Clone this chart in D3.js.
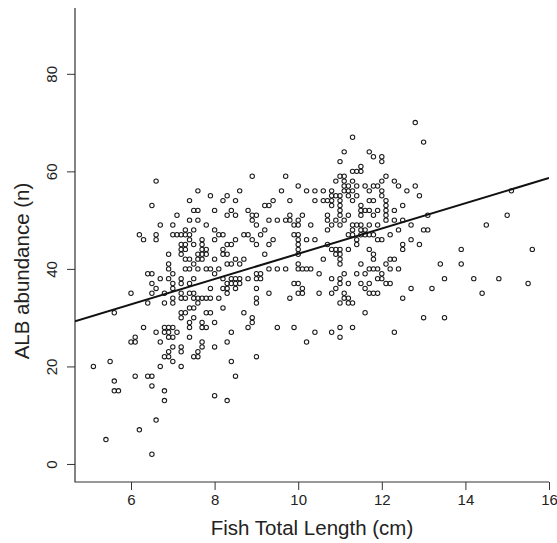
<!DOCTYPE html>
<html>
<head>
<meta charset="utf-8">
<script src="https://cdn.jsdelivr.net/npm/d3@7"></script>
<style>
    body { margin: 0; background: #fff; }
    text { font-family: "Liberation Sans", Arial, sans-serif; fill: #222; }
    .axis path { display: none; }
    .axis line { stroke: #333; }
</style>
</head>
<body>
<div id="chart"></div>
<script>
// fish total length (cm) and ALB abundance, one row of points per abundance value
const rows = [
    [70, [12.8]],
    [67, [11.3]],
    [66, [13.0]],
    [64, [11.1, 11.7]],
    [63, [11.8, 12.0]],
    [62, [11.0, 12.0]],
    [61, [11.5]],
    [60, [11.3, 11.4, 11.5]],
    [59, [8.9, 9.7, 11.0, 11.1, 12.1]],
    [58, [6.6, 10.9, 11.1, 11.3, 12.0, 12.3]],
    [57, [10.0, 11.1, 11.2, 11.4, 11.6, 11.8, 11.9, 12.4, 12.8]],
    [56, [7.6, 8.6, 9.6, 10.2, 10.4, 10.6, 10.8, 11.1, 11.2, 11.3, 11.7, 12.0, 12.6, 15.1]],
    [55, [7.9, 8.3, 10.8, 10.9, 11.0, 11.2, 11.4, 12.0, 12.9]],
    [54, [7.4, 8.2, 8.5, 9.4, 9.8, 10.4, 10.6, 10.7, 10.8, 11.0, 11.3, 11.7, 11.8, 12.1]],
    [53, [6.5, 9.2, 9.3, 10.8, 11.0, 11.5, 12.1, 12.5]],
    [52, [7.5, 7.6, 8.0, 8.4, 8.8, 11.0, 11.5, 11.6, 11.7, 11.9, 12.1, 12.3]],
    [51, [7.1, 8.3, 8.5, 8.9, 9.0, 9.8, 10.1, 10.7, 11.0, 11.2, 11.5, 11.8, 12.1, 13.1, 15.0]],
    [50, [7.4, 7.6, 8.9, 9.3, 9.5, 9.7, 9.8, 10.0, 10.7, 10.9, 11.1, 12.1, 12.3, 12.5]],
    [49, [6.7, 7.0, 7.8, 9.0, 9.9, 10.0, 10.3, 10.8, 11.0, 11.3, 11.4, 11.5, 11.7, 11.9, 12.7, 14.5]],
    [48, [7.3, 7.5, 8.0, 9.2, 10.7, 11.3, 11.5, 11.6, 12.4, 13.0, 13.1]],
    [47, [6.2, 6.6, 7.0, 7.1, 7.2, 7.3, 7.4, 8.1, 8.2, 8.7, 8.8, 9.1, 9.9, 10.0, 11.2, 11.3, 11.5, 11.6, 11.7, 11.8, 12.2]],
    [46, [6.3, 6.6, 7.4, 7.7, 8.0, 8.5, 8.9, 9.4, 10.0, 10.2, 10.4, 11.4, 11.9, 12.0, 12.7]],
    [45, [7.2, 7.3, 7.5, 7.7, 8.3, 8.4, 9.0, 9.3, 10.0, 10.7, 11.4, 12.5, 12.9]],
    [44, [7.2, 7.3, 7.7, 7.8, 8.2, 10.0, 10.8, 10.9, 11.0, 11.2, 11.7, 12.5, 13.9, 15.6]],
    [43, [6.9, 7.2, 7.6, 7.7, 7.8, 8.2, 8.3, 9.2, 10.0, 10.9, 11.0, 11.8]],
    [42, [7.3, 7.4, 7.6, 7.7, 8.0, 8.5, 8.7, 10.6, 11.0, 11.8, 12.2, 12.3]],
    [41, [6.9, 7.5, 8.3, 8.4, 8.6, 10.0, 11.0, 11.5, 12.1, 13.4, 13.9]],
    [40, [6.9, 7.3, 7.4, 7.6, 7.8, 7.9, 8.1, 9.3, 9.5, 9.7, 10.0, 10.1, 10.2, 10.3, 11.7, 11.8, 11.9, 12.2, 12.4]],
    [39, [6.4, 6.5, 7.0, 8.0, 9.0, 9.1, 10.5, 11.1, 11.4, 11.6, 12.0]],
    [38, [6.7, 6.9, 7.2, 7.5, 8.2, 8.4, 8.5, 8.6, 8.8, 9.0, 9.1, 10.8, 11.0, 11.9, 12.0, 13.5, 14.2, 14.8]],
    [37, [6.5, 7.0, 7.2, 7.4, 8.3, 8.4, 8.5, 8.6, 9.9, 10.0, 11.0, 11.2, 11.5, 11.7, 12.1, 12.2, 15.5]],
    [36, [6.6, 7.0, 7.9, 8.2, 8.3, 8.5, 9.0, 10.1, 10.9, 11.6, 12.7, 13.2]],
    [35, [6.0, 6.5, 6.8, 7.2, 7.4, 7.5, 8.3, 9.3, 10.0, 10.1, 10.5, 10.8, 11.1, 11.7, 11.8, 11.9, 14.4]],
    [34, [7.0, 7.2, 7.3, 7.5, 7.6, 7.7, 7.8, 7.9, 8.1, 9.0, 9.8, 11.1, 11.2, 12.5]],
    [33, [6.4, 6.8, 7.0, 7.6, 9.0, 11.0, 11.2, 11.3]],
    [32, [7.4, 7.5, 8.2]],
    [31, [5.6, 7.2, 7.3, 7.8, 7.9, 8.7, 11.6]],
    [30, [7.2, 7.5, 8.9, 13.0, 13.5]],
    [29, [7.4, 7.7, 8.0, 8.9]],
    [28, [6.3, 6.8, 6.9, 7.0, 7.4, 7.7, 7.8, 8.8, 9.5, 9.9, 11.0, 11.3]],
    [27, [6.6, 6.8, 6.9, 7.1, 8.4, 10.4, 10.8, 12.3]],
    [26, [6.1, 6.9, 7.0, 7.4, 11.0]],
    [25, [6.0, 6.1, 6.7, 7.7, 8.3, 10.2]],
    [24, [7.0, 7.2, 7.7, 8.0]],
    [23, [6.9, 7.2, 7.6]],
    [22, [6.8, 6.9, 7.5, 7.6, 9.0]],
    [21, [5.5, 7.0, 8.4]],
    [20, [5.1, 6.7, 7.2]],
    [18, [6.1, 6.4, 6.5, 8.5]],
    [17, [5.6]],
    [16, [6.5]],
    [15, [5.6, 5.7, 6.8]],
    [14, [8.0]],
    [13, [6.8, 8.3]],
    [9, [6.6]],
    [7, [6.2]],
    [5, [5.4]],
    [2, [6.5]]
]
// fitted regression line: abundance = intercept + slope * length
const fitIntercept = 17.2
const fitSlope = 2.59
const xTicks = [6, 8, 10, 12, 14, 16]
const yTicks = [0, 20, 40, 60, 80]
const xTitle = 'Fish Total Length (cm)'
const yTitle = 'ALB abundance (n)'

const points = []
rows.forEach(([n, lengths]) => lengths.forEach(len => points.push({length: len, n: n})))

const width = 557, height = 543
const margin = {top: 8, right: 8, bottom: 61, left: 76}

const svg = d3.select('#chart').append('svg')
    .attr('width', width)
    .attr('height', height)

const x_scale = d3.scaleLinear()
    .domain([4.66, 16.0])
    .range([margin.left - 1, width - margin.right])
const y_scale = d3.scaleLinear()
    .domain([-3.7, 93.5])
    .range([height - margin.bottom, margin.top])

const plotLeft = x_scale.range()[0], plotRight = x_scale.range()[1]
const plotTop = y_scale.range()[1], plotBottom = y_scale.range()[0]

svg.append('defs').append('clipPath')
    .attr('id', 'clip')
    .append('rect')
    .attr('x', plotLeft)
    .attr('y', plotTop)
    .attr('width', plotRight - plotLeft)
    .attr('height', plotBottom - plotTop)

// axes
const x_axis = d3.axisBottom(x_scale).tickValues(xTicks).tickSize(8).tickSizeOuter(0).tickPadding(4)
const y_axis = d3.axisLeft(y_scale).tickValues(yTicks).tickSize(8).tickSizeOuter(0).tickPadding(4)

const gx = svg.append('g')
    .attr('class', 'axis axis--x')
    .attr('transform', `translate(0,${plotBottom})`)
    .call(x_axis)
gx.selectAll('text').style('font-size', '15px').attr('fill', '#222')

const gy = svg.append('g')
    .attr('class', 'axis axis--y')
    .attr('transform', `translate(${plotLeft},0)`)
    .call(y_axis)
gy.selectAll('text')
    .style('font-size', '15px')
    .attr('fill', '#222')
    .attr('text-anchor', 'middle')
    .attr('transform', 'rotate(-90)')
    .attr('x', 0)
    .attr('y', -23)
    .attr('dy', '0.35em')

// L-shaped frame
svg.append('path')
    .attr('d', `M${plotLeft},${plotTop}V${plotBottom}H${plotRight}`)
    .attr('fill', 'none')
    .attr('stroke', '#333')
    .attr('stroke-width', 1.2)

// points
svg.append('g')
    .selectAll('circle')
    .data(points)
    .join('circle')
    .attr('cx', d => x_scale(d.length))
    .attr('cy', d => y_scale(d.n))
    .attr('r', 2.2)
    .attr('fill', 'none')
    .attr('stroke', '#1a1a1a')
    .attr('stroke-width', 1.05)

// regression line
const line = d3.line()
    .x(d => x_scale(d))
    .y(d => y_scale(fitIntercept + fitSlope * d))
svg.append('path')
    .datum(x_scale.domain())
    .attr('clip-path', 'url(#clip)')
    .attr('d', line)
    .attr('fill', 'none')
    .attr('stroke', '#111')
    .attr('stroke-width', 2)

// titles
svg.append('text')
    .attr('x', (plotLeft + plotRight) / 2)
    .attr('y', 535)
    .attr('text-anchor', 'middle')
    .style('font-size', '20.5px')
    .text(xTitle)
svg.append('text')
    .attr('transform', `translate(29,271) rotate(-90)`)
    .attr('text-anchor', 'middle')
    .style('font-size', '20.5px')
    .text(yTitle)
</script>
</body>
</html>
